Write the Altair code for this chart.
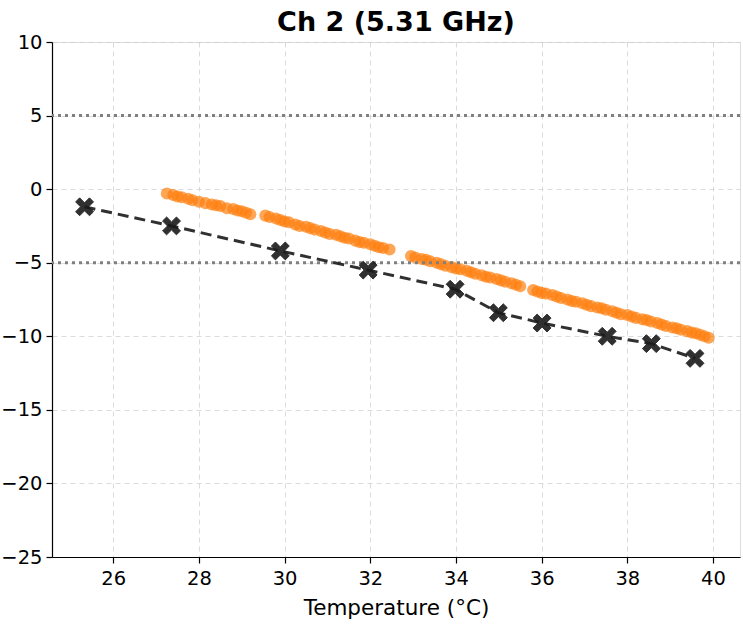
import altair as alt
import pandas as pd

# Measured (black X markers, dashed line)
meas_x = [25.33, 27.36, 29.9, 31.95, 33.98, 34.99, 36.01, 37.53, 38.56, 39.58]
meas_y = [-1.2, -2.5, -4.2, -5.5, -6.8, -8.4, -9.1, -10.0, -10.5, -11.5]

# Orange scatter points
orange_x = [
    27.25, 27.4, 27.5, 27.6, 27.75, 27.85, 28.0, 28.15, 28.3, 28.4, 28.5, 28.65, 28.8, 28.9, 29.0, 29.1, 29.2,
    29.55, 29.65, 29.8, 29.9, 30.0, 30.1, 30.25, 30.35, 30.5, 30.6, 30.7, 30.85, 30.95, 31.05, 31.2, 31.3,
    31.4, 31.5, 31.65, 31.75, 31.85, 32.0, 32.1, 32.2, 32.3, 32.45,
    32.95, 33.05, 33.2, 33.3, 33.4, 33.55, 33.65, 33.75, 33.9, 34.0, 34.1, 34.25, 34.35, 34.45, 34.6, 34.7,
    34.8, 34.95, 35.05, 35.15, 35.3, 35.4, 35.5,
    35.8, 35.9, 36.0, 36.1, 36.25, 36.35, 36.45, 36.6, 36.7, 36.8, 36.95, 37.05, 37.15, 37.3, 37.4, 37.5,
    37.65, 37.75, 37.85, 38.0, 38.1, 38.2, 38.35, 38.45, 38.55, 38.7, 38.8, 38.9, 39.05, 39.15, 39.25, 39.4,
    39.5, 39.6, 39.7, 39.8, 39.9,
]
orange_y = [
    -0.30, -0.40, -0.50, -0.55, -0.65, -0.75, -0.85, -0.95, -1.05, -1.10, -1.15, -1.30, -1.35, -1.45, -1.50, -1.60, -1.70,
    -1.80, -1.90, -2.00, -2.10, -2.20, -2.25, -2.40, -2.50, -2.55, -2.65, -2.75, -2.85, -2.95, -3.05, -3.10, -3.20,
    -3.30, -3.35, -3.50, -3.60, -3.65, -3.75, -3.85, -3.95, -4.00, -4.10,
    -4.55, -4.65, -4.75, -4.80, -4.90, -5.00, -5.10, -5.20, -5.30, -5.40, -5.45, -5.55, -5.65, -5.75, -5.85, -5.95,
    -6.00, -6.10, -6.20, -6.30, -6.40, -6.50, -6.60,
    -6.85, -6.95, -7.05, -7.10, -7.20, -7.30, -7.40, -7.50, -7.60, -7.65, -7.75, -7.85, -7.95, -8.05, -8.10, -8.20,
    -8.30, -8.40, -8.50, -8.55, -8.65, -8.75, -8.85, -8.90, -9.00, -9.10, -9.20, -9.30, -9.40, -9.45, -9.55, -9.65,
    -9.75, -9.80, -9.90, -10.00, -10.10,
]

limit_y = [5, -5]
x_ticks = [26, 28, 30, 32, 34, 36, 38, 40]
y_ticks = [10, 5, 0, -5, -10, -15, -20, -25]

n = min(len(orange_x), len(orange_y))
df_o = pd.DataFrame({"x": orange_x[:n], "y": orange_y[:n]})
df_m = pd.DataFrame({"x": meas_x, "y": meas_y})
df_l = pd.DataFrame({"y": limit_y})

FONT = "DejaVu Sans"
xs = alt.Scale(domain=[24.57, 40.63], nice=False, zero=False)
ys = alt.Scale(domain=[-25, 10], nice=False, zero=False)

xaxis = alt.Axis(values=x_ticks, title="Temperature (°C)", grid=True, gridDash=[5, 4],
                 gridColor="#cccccc", gridOpacity=0.7, gridWidth=1, tickColor="black",
                 domainColor="black", domainWidth=1.2, labelFont=FONT, labelFontSize=19.5,
                 labelColor="black", titleFont=FONT, titleFontSize=21.5, titleFontWeight="normal",
                 titleColor="black", tickSize=6, tickWidth=1.2, labelPadding=6, titlePadding=10, format="d")
yaxis = alt.Axis(values=y_ticks, title=None, grid=True, gridDash=[5, 4],
                 gridColor="#cccccc", gridOpacity=0.7, gridWidth=1, tickColor="black",
                 domainColor="black", domainWidth=1.2, labelFont=FONT, labelFontSize=19.5,
                 labelColor="black", tickSize=6, tickWidth=1.2, labelPadding=4, format="d",
                 labelExpr="replace(datum.label, '-', '\u2212')")

base_x = alt.X("x:Q", scale=xs, axis=xaxis)
base_y = alt.Y("y:Q", scale=ys, axis=yaxis)

orange = alt.Chart(df_o).mark_circle(size=145, color="#ff7f0e", opacity=0.7).encode(
    x=base_x, y=base_y
)

limits = alt.Chart(df_l).mark_rule(color="#808080", strokeWidth=3, strokeDash=[3, 4]).encode(
    y=alt.Y("y:Q", scale=ys)
)

line = alt.Chart(df_m).mark_line(color="#1a1a1a", strokeWidth=3, strokeDash=[11, 6], opacity=0.9).encode(
    x=alt.X("x:Q", scale=xs), y=alt.Y("y:Q", scale=ys)
)

xshape = "M -1 -0.55 L -0.55 -1 L 0 -0.45 L 0.55 -1 L 1 -0.55 L 0.45 0 L 1 0.55 L 0.55 1 L 0 0.45 L -0.55 1 L -1 0.55 L -0.45 0 Z"
markers = alt.Chart(df_m).mark_point(shape=xshape, size=320, filled=True, color="#1a1a1a",
                                      opacity=0.9, stroke="#1a1a1a", strokeWidth=1).encode(
    x=alt.X("x:Q", scale=xs), y=alt.Y("y:Q", scale=ys)
)

chart = alt.layer(orange, limits, line, markers).properties(
    width=688, height=515,
    title=alt.TitleParams("Ch 2 (5.31 GHz)", font=FONT, fontSize=27, fontWeight="bold",
                          color="black", anchor="middle", offset=0, dy=5),
    autosize=alt.AutoSizeParams(type="none"),
    padding={"left": 52, "top": 42, "right": 3, "bottom": 70},
).configure_view(stroke="black", strokeWidth=1.2).configure(background="white")

chart.save("out.html", embed_options={"renderer": "svg", "actions": False})
